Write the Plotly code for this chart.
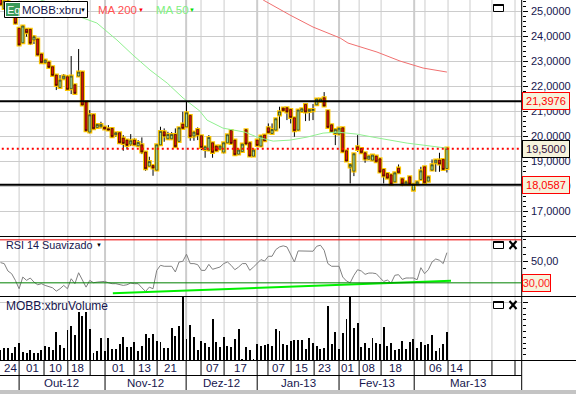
import plotly.graph_objects as go

W, H = 576, 394
idx = list(range(121))

opens = [25500,25100,25400,25050,
24773,24307,23734,24267,24267,23840,23880,23280,22934,22960,22774,22440,21947,22294,22374,21894,22054,22400,22561,21374,20161,20854,20348,20374,20361,20294,20308,20054,20134,19921,19841,19681,19841,19614,19654,19361,18801,18828,18641,19654,20174,19895,19895,20068,19788,20481,20374,20828,20001,20268,
20014,19467,19441,19734,19601,19481,19361,19734,20227,19840,19281,19387,20254,19734,19201,19840,19601,20041,20334,20107,20241,20841,21120,21134,21067,20734,20241,20987,21267,20987,21014,21254,21387,21534,21014,20454,20107,20081,20334,19414,18761,18601,
19574,19507,19334,19081,19041,19201,19094,18667,18507,18454,18174,18721,18294,18081,18374,17841,18081,18267,18774,18201,18641,18934,19041,19067,18707]
closes = [25250,25400,25000,24800,
24507,23640,24400,24134,23707,23974,23240,22934,23040,22747,22427,22027,22240,22400,21867,22400,21708,22561,21241,20215,20854,20294,20468,20468,20281,20241,19975,20134,19734,19708,19628,19815,19654,19748,19361,18695,18988,18721,19654,20188,20001,20068,20068,19575,20334,20308,20934,19975,20161,20054,
19547,19574,19947,19347,19414,19601,19734,20054,19707,19254,19441,19681,19681,19201,19441,19627,20001,19814,20134,20267,20694,20974,21014,20961,20747,20214,21040,21094,20961,21067,21067,21480,21480,21200,20347,20187,20267,20320,19374,19001,18868,19294,
19467,19334,19081,19201,19241,18974,18561,18401,18321,18081,18534,18534,18081,18174,18081,18081,18174,18614,18134,18374,18854,19041,18881,18667,19521]
highs = [25600,25450,25450,25100,
24900,24340,24420,24290,24280,24040,23890,23290,23067,22970,22780,22450,22440,22481,22440,23200,22060,23480,22570,21380,21041,20860,20508,20574,20370,20441,20320,20140,20140,20041,19850,20081,19908,19841,19948,19370,19175,18840,19660,20374,20308,20174,20161,20308,20340,20974,21374,20840,20170,20348,
20041,19580,20041,19740,19610,19610,19740,20060,20240,19850,19450,19690,20260,19740,19450,19850,20010,20050,20507,20507,20700,21174,21130,21140,21080,20740,21050,21100,21270,21080,21280,21490,21490,21760,21020,20460,20270,20330,20340,19420,18880,19300,
20041,19510,19340,19210,19250,19210,19100,18670,18510,18460,18540,18867,18300,18180,18380,18090,18180,18774,18780,18380,19067,19081,19334,19070,19530]
lows = [25200,25050,24950,24750,
24467,23620,23700,23974,23640,23680,23230,22907,22880,22720,22420,21841,21907,22240,21841,21680,21700,22374,21230,20200,20108,20280,20308,20308,20270,20215,19960,19975,19720,19415,19468,19601,19640,19575,19281,18615,18790,18415,18630,19614,19775,19841,19841,19560,19770,20300,20360,19815,19815,19841,
19441,19134,19414,19134,19400,19470,19308,19720,19700,19240,19270,19380,19670,19190,19190,19620,19590,19810,20107,20100,20230,20307,21000,20641,20507,19974,20230,20980,20600,20614,20641,21240,21380,21174,20340,20180,19641,20070,19360,18990,18108,18401,
19374,19320,18934,19070,19030,18960,18550,18108,18310,18070,18160,18507,18001,18070,18070,17830,18070,18260,18120,18190,18614,18574,18574,18641,18547]

ma50_idx = [10,16,22.2,25.9,31.3,35.6,40.2,44.8,49.1,53.6,55.5,59.8,65.7,69,73.3,77.8,82.4,86.7,90.5,95.8,100.1,104.7,109.3,113.6,120]
ma50_val = [25500,25100,24720,24520,23840,23240,22640,22120,21520,21000,20640,20320,20160,19960,19800,19840,19960,20120,20160,20080,19960,19840,19720,19640,19520]
ma200_idx = [70.6,77.8,84,91.3,93.4,101.2,107.4,113.6,120]
ma200_val = [25440,24840,24360,23920,23720,23360,23000,22720,22560]

rsi = [48.8,47.9,41.0,38.5,32.3,24.5,35.4,32.3,34.5,30.7,28.2,29.2,27.6,26.7,25.4,22.3,24.5,27.6,24.5,33.8,29.2,39.4,32.3,26.0,32.3,30.1,30.7,31.3,31.3,30.1,29.2,29.2,28.2,27.6,28.2,29.8,29.2,29.2,25.4,22.0,26.0,24.5,41.6,46.3,45.4,45.4,45.4,40.1,49.4,50.0,56.6,47.9,47.9,46.9,41.6,41.6,47.2,42.6,43.8,44.7,47.9,49.4,46.3,42.2,44.7,47.9,47.9,41.6,44.7,47.9,51.6,50.3,54.7,54.7,60.9,63.4,64.4,63.4,
55.6,49.4,59.7,59.7,59.1,59.4,59.4,64.0,65.0,60.3,47.9,45.4,45.4,45.4,35.4,31.7,30.1,37.0,42.2,41.0,37.9,39.1,39.1,38.5,34.8,31.3,32.6,29.8,37.0,37.6,33.2,34.5,34.5,34.5,32.9,44.1,38.5,42.2,49.4,52.2,51.0,47.9,58.1]
rsi_trend_idx = [30.2, 121.1]
rsi_trend_val = [20.4, 32.0]

volume = [32,38,38,22,42,54,27,22,33,22,22,33,44,40,32,85,46,38,91,105,78,145,133,145,95,22,30,67,28,69,34,36,49,72,42,41,57,30,45,81,67,81,60,57,39,39,99,75,105,190,64,108,72,33,58,52,42,126,55,42,72,45,42,66,96,6,42,32,6,51,45,48,51,45,96,90,51,48,
60,63,62,63,36,68,54,45,36,39,165,51,87,36,84,126,190,99,114,42,54,39,69,54,51,102,45,54,33,36,60,36,57,66,39,57,48,51,78,30,39,51,87]

assert all(len(a) == 121 for a in (opens, closes, highs, lows, rsi, volume))

price_ticks = [17000,18000,19000,20000,21000,22000,23000,24000,25000]
price_labels = ["17,0000","18,0000","19,0000","20,0000","21,0000","22,0000","23,0000","24,0000","25,0000"]
resistance, pivot, support = 21397.6, 19500, 18058.7
grid_idx = [5,11.7,18.1,24.1,35.9,42.1,53.9,60.1,71.9,78.1,84.3,96.4,102.3,114.1,120.3,126.2,132.1,138.3]
month_idx = [28.1,49.9,69,91,111.2]
day_sep_extra = [5]
date_idx = [2.6,8.5,14.9,20.8,31.6,38.8,45.8,56.9,64.4,74.6,81,87.2,93.4,98.8,106.3,116.8,122.5]
date_labels = ["24","01","10","18","01","13","21","07","17","07","15","23","01","08","18","06","14"]
month_centers = [-1.1,16.5,39.1,59.3,80,101.2,125.7]
month_labels = ["Set-12","Out-12","Nov-12","Dez-12","Jan-13","Fev-13","Mar-13"]

FONT = "Liberation Sans"
INK = "#16164e"
GRID = "#cccccc"
PANEL_X = 521.7 / W
def py(p): return 1 - p / H
def px(p): return p / W

fig = go.Figure()

# candles: wick layer, gold halo, body
fig.add_trace(go.Candlestick(x=idx, open=opens, high=highs, low=lows, close=closes, whiskerwidth=0,
    increasing=dict(line=dict(color="#000000", width=1), fillcolor="#000000"),
    decreasing=dict(line=dict(color="#000000", width=1), fillcolor="#000000"), showlegend=False))
body_hi = [max(o, c) for o, c in zip(opens, closes)]
body_lo = [min(o, c) for o, c in zip(opens, closes)]
fig.add_trace(go.Candlestick(x=idx, open=opens, high=body_hi, low=body_lo, close=closes, whiskerwidth=0,
    increasing=dict(line=dict(color="#ffc800", width=3), fillcolor="#ffc800"),
    decreasing=dict(line=dict(color="#ffc800", width=3), fillcolor="#ffc800"), showlegend=False))
fig.add_trace(go.Candlestick(x=idx, open=opens, high=body_hi, low=body_lo, close=closes, whiskerwidth=0,
    increasing=dict(line=dict(color="#203020", width=0.7), fillcolor="#a8e0a0"),
    decreasing=dict(line=dict(color="#300000", width=0.7), fillcolor="#e81010"), showlegend=False))

fig.add_trace(go.Scatter(x=ma50_idx, y=ma50_val, mode="lines", line=dict(color="#90f090", width=1), showlegend=False))
fig.add_trace(go.Scatter(x=ma200_idx, y=ma200_val, mode="lines", line=dict(color="#f07070", width=1), showlegend=False))

fig.add_trace(go.Scatter(x=idx, y=rsi, yaxis="y2", mode="lines", line=dict(color="#808080", width=1), showlegend=False))
fig.add_trace(go.Scatter(x=rsi_trend_idx, y=rsi_trend_val, yaxis="y2", mode="lines", line=dict(color="#00f000", width=2), showlegend=False))

fig.add_trace(go.Bar(x=idx, y=volume, yaxis="y3", width=0.52, marker=dict(color="#000000", line=dict(width=0)), showlegend=False))

shapes = []
# vertical grid
for v in grid_idx:
    shapes.append(dict(type="line", xref="x", yref="paper", x0=v, x1=v, y0=py(360), y1=py(0), layer="below", line=dict(color=GRID, width=1)))
for v in month_idx:
    shapes.append(dict(type="line", xref="x", yref="paper", x0=v, x1=v, y0=py(360), y1=py(0), layer="below", line=dict(color=GRID, width=2)))
# date rows
for v in grid_idx + month_idx:
    shapes.append(dict(type="line", xref="x", yref="paper", x0=v, x1=v, y0=py(375), y1=py(360), line=dict(color="#000000", width=1)))
for v in day_sep_extra + month_idx:
    shapes.append(dict(type="line", xref="x", yref="paper", x0=v, x1=v, y0=py(390), y1=py(375), line=dict(color="#000000", width=1)))
# horizontal rules
for p in (236.5, 296.5, 360.5):
    shapes.append(dict(type="line", xref="paper", yref="paper", x0=0, x1=1, y0=py(p), y1=py(p), line=dict(color="#000000", width=1)))
shapes.append(dict(type="line", xref="paper", yref="paper", x0=0, x1=PANEL_X, y0=py(375.5), y1=py(375.5), line=dict(color="#000000", width=1)))
shapes.append(dict(type="line", xref="paper", yref="paper", x0=PANEL_X, x1=PANEL_X, y0=py(390), y1=py(0), line=dict(color="#000000", width=1)))
shapes.append(dict(type="rect", xref="paper", yref="paper", x0=0, x1=1, y0=0, y1=py(390), fillcolor="#c4c4c4", line=dict(width=0)))
# levels
shapes.append(dict(type="line", xref="x", yref="y", x0=-1, x1=140.1, y0=resistance, y1=resistance, line=dict(color="#000000", width=2)))
shapes.append(dict(type="line", xref="x", yref="y", x0=-1, x1=140.1, y0=support, y1=support, line=dict(color="#000000", width=2)))
shapes.append(dict(type="line", xref="x", yref="y", x0=-1, x1=140.1, y0=pivot, y1=pivot, line=dict(color="#ff0000", width=2, dash="2px,3px")))
shapes.append(dict(type="line", xref="x", yref="y2", x0=-1, x1=140.1, y0=70, y1=70, line=dict(color="#ee0000", width=1)))
shapes.append(dict(type="line", xref="x", yref="y2", x0=-1, x1=140.1, y0=30, y1=30, line=dict(color="#008000", width=1)))
# legend box
shapes.append(dict(type="rect", xref="paper", yref="paper", x0=px(4.5), x1=px(87.5), y0=py(17.5), y1=py(1.5), fillcolor="#ffffff", line=dict(color="#000000", width=1)))
shapes.append(dict(type="rect", xref="paper", yref="paper", x0=px(6), x1=px(20), y0=py(16), y1=py(3), fillcolor="#3a9a5a", line=dict(width=0)))
# pane icons
for top in (4, 241, 301):
    shapes.append(dict(type="rect", xref="paper", yref="paper", x0=px(493.5), x1=px(503.5), y0=py(top + 7.5), y1=py(top + 0.5), fillcolor="#ffffff", line=dict(color="#000000", width=1)))
    shapes.append(dict(type="line", xref="paper", yref="paper", x0=px(493.5), x1=px(503.5), y0=py(top + 1), y1=py(top + 1), line=dict(color="#000000", width=2)))
for top in (241, 301):
    shapes.append(dict(type="line", xref="paper", yref="paper", x0=px(509.5), x1=px(516.5), y0=py(top), y1=py(top + 8), line=dict(color="#000000", width=2)))
    shapes.append(dict(type="line", xref="paper", yref="paper", x0=px(516.5), x1=px(509.5), y0=py(top), y1=py(top + 8), line=dict(color="#000000", width=2)))

ann = []
def label(x, y, text, color=INK, size=12, anchor="left", xref="paper", **kw):
    ann.append(dict(x=x, y=y, xref=xref, yref="paper", text=text, showarrow=False, xanchor=anchor, yanchor="middle",
                    font=dict(family=FONT, size=size, color=color), borderpad=0, **kw))

for v, t in zip(date_idx, date_labels):
    label(v, py(368), t, anchor="center", xref="x", size=11.5)
for v, t in zip(month_centers, month_labels):
    label(v, py(383), t, anchor="center", xref="x", size=11.5)

label(px(6), py(9.5), "Eq", color="#ffffff", size=11)
label(px(21), py(9.5), "MOBB:xbru", size=11.5)
label(px(79), py(9.5), "▼", color="#000000", size=6)
label(px(97), py(9.5), "MA 200", color="#ff5050", size=11.5)
label(px(137), py(9.5), "▼", color="#ff0000", size=6)
label(px(155), py(9.5), "MA 50", color="#80f080", size=11.5)
label(px(188), py(9.5), "▼", color="#00dd00", size=6)
label(px(5), py(245.5), "RSI 14 Suavizado", size=10.8)
label(px(95), py(245.5), "▼", color="#000000", size=6)
label(px(5), py(305.5), "MOBB:xbruVolume", size=12)

def valuebox(p, text, color, border, x1=569.5, x0=521.7, h=16):
    ann.append(dict(x=px((x0 + x1) / 2), y=py(p), xref="paper", yref="paper", xanchor="center", yanchor="middle",
                    text=text, showarrow=False,
                    font=dict(family=FONT, size=11, color=color), bgcolor="#f6f3dc",
                    bordercolor=border, borderwidth=1, borderpad=0, width=x1 - x0 - 2, height=h, align="center"))
valuebox(101, "21,3976", "#ff0000", "#ff0000")
valuebox(148.5, "19,5000", "#301040", "#000000")
valuebox(184.5, "18,0587", "#ff0000", "#ff0000")
valuebox(282.5, "30,00", "#ff2020", "#ff0000", x1=550.5)

axis_font = dict(family=FONT, size=11, color=INK)
def yax(**kw):
    base = dict(side="right", anchor="x", showline=False, ticks="outside", ticklen=5, tickcolor="#000000", tickwidth=1,
                showgrid=True, gridcolor=GRID, gridwidth=1, zeroline=False, tickfont=axis_font, ticklabelstandoff=1,
                automargin=False)
    base.update(kw)
    return base

fig.update_layout(
    width=W, height=H, autosize=False, margin=dict(l=0, r=0, t=0, b=0),
    paper_bgcolor="#ffffff", plot_bgcolor="#ffffff", separators=", ",
    showlegend=False, boxmode="overlay", boxgap=0.2, bargap=0, hovermode=False,
    xaxis=dict(domain=[0, PANEL_X], range=[-0.134, 140.1], rangeslider=dict(visible=False), showgrid=False,
               showticklabels=False, ticks="", zeroline=False, anchor="y3", automargin=False),
    yaxis=yax(domain=[py(236.5), 1], range=[15988, 25440], tickvals=price_ticks, ticktext=price_labels,
              minor=dict(dtick=200, ticks="outside", ticklen=3, tickcolor="#000000", showgrid=False)),
    yaxis2=yax(domain=[py(296.5), py(236.5)], range=[17.3, 73.1], tickvals=[50], tickformat=".2f",
               minor=dict(tickvals=[23.33,30,36.67,43.33,56.67,63.33,70], ticks="outside", ticklen=3, tickcolor="#000000", showgrid=False)),
    yaxis3=yax(domain=[py(360.5), py(296.5)], range=[0, 192], tickvals=[174], showticklabels=False,
               minor=dict(tickvals=[17.4,34.8,52.2,69.6,87,104.4,121.8,139.2,156.6], ticks="outside", ticklen=3, tickcolor="#000000", showgrid=False)),
    shapes=shapes, annotations=ann,
)

fig.write_html("out.html", config=dict(displayModeBar=False, staticPlot=True),
               post_script="document.body.style.margin='0';document.documentElement.style.overflow='hidden';")
